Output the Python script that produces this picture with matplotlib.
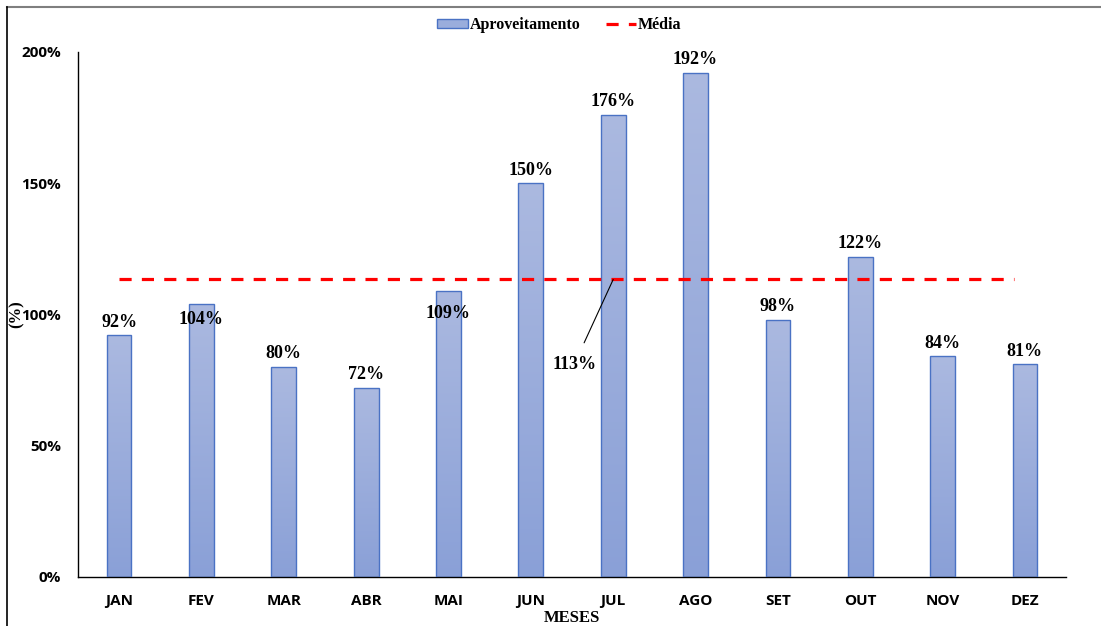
import numpy as np
import matplotlib.pyplot as plt
from matplotlib.colors import LinearSegmentedColormap
from matplotlib.lines import Line2D
from matplotlib.patches import Patch
from matplotlib.ticker import FuncFormatter

meses = ['JAN', 'FEV', 'MAR', 'ABR', 'MAI', 'JUN', 'JUL', 'AGO', 'SET', 'OUT', 'NOV', 'DEZ']
aproveitamento = [92, 104, 80, 72, 109, 150, 176, 192, 98, 122, 84, 81]
yticks = [0, 50, 100, 150, 200]

# rótulos que ficam dentro da barra (deslocamento em pontos)
label_offsets = {1: -11.5, 4: -16.5}

serif = 'Liberation Serif'
sans = 'Open Sans'

valores = np.array(aproveitamento) / 100
media = valores.mean()
x = np.arange(len(meses))

fig = plt.figure(figsize=(11.01, 6.26), dpi=100)
ax = fig.add_axes([0.0708, 0.0783, 0.8975, 0.8387])

# barras com gradiente vertical
cmap = LinearSegmentedColormap.from_list('grad', ['#8aa0d7', '#abb9e0'])
grad = np.linspace(0, 1, 256).reshape(-1, 1)
largura = 0.30
bars = ax.bar(x, valores, width=largura, color='none', edgecolor='#4a72c4', linewidth=1.0, zorder=3)
for b in bars:
    x0, w, h = b.get_x(), b.get_width(), b.get_height()
    im = ax.imshow(grad, cmap=cmap, aspect='auto', origin='lower',
                   extent=[x0, x0 + w, 0, h], zorder=2)
    im.set_clip_path(b)

# linha da média
ax.plot([x[0], x[-1] - 0.13], [media, media], color='#ff0000', lw=2.3,
        linestyle=(0, (3.8, 3.2)), zorder=4)

# rótulos de dados
for i, v in enumerate(valores):
    off = label_offsets.get(i, 9.5)
    ax.annotate(f'{aproveitamento[i]}%', (x[i], v), xytext=(0, off),
                textcoords='offset points', ha='center', va='center',
                fontsize=13, fontweight='bold', family=serif, zorder=5)

ax.annotate(f'{media * 100:.0f}%', (x[6], media), xytext=(-28, -61),
            textcoords='offset points', ha='center', va='center',
            fontsize=13, fontweight='bold', family=serif,
            arrowprops=dict(arrowstyle='-', color='black', lw=0.8, shrinkA=8, shrinkB=0),
            zorder=5)

ax.set_xlim(-0.5, len(meses) - 0.5)
ax.set_ylim(0, 2.0)
ax.set_xticks(x)
ax.set_xticklabels(meses)
ax.set_yticks(np.array(yticks) / 100)
ax.yaxis.set_major_formatter(FuncFormatter(lambda v, p: f'{v * 100:.0f}%'))
for lab in ax.get_xticklabels() + ax.get_yticklabels():
    lab.set_family(sans)
    lab.set_fontweight('bold')
    lab.set_fontsize(11)
ax.tick_params(axis='both', length=0)
ax.tick_params(axis='y', pad=12)
ax.tick_params(axis='x', pad=12)

for s in ['top', 'right']:
    ax.spines[s].set_visible(False)
ax.spines['left'].set_linewidth(1.0)
ax.spines['bottom'].set_linewidth(1.0)

fig.text(572 / 1101, 1 - 618 / 626, 'MESES', ha='center', va='center',
         family=serif, fontweight='bold', fontsize=12)
fig.text(17 / 1101, 1 - 314 / 626, '(%)', rotation=90, ha='center', va='center',
         family=serif, fontweight='bold', fontsize=12)

# legenda
handles = [Patch(facecolor='#9aaddc', edgecolor='#4a72c4', linewidth=1.0),
           Line2D([0], [0], color='#ff0000', lw=2.3, linestyle=(0, (3.8, 3.2)))]
fig.legend(handles, ['Aproveitamento', 'Média'], loc='center', bbox_to_anchor=(0.508, 1 - 25 / 626),
           ncol=2, frameon=False, prop={'family': serif, 'weight': 'bold', 'size': 11.5},
           handlelength=1.9, handleheight=0.55, handletextpad=0.1, columnspacing=1.6)

# moldura
fig.add_artist(Line2D([7 / 1101, 1], [1 - 6.5 / 626, 1 - 6.5 / 626], transform=fig.transFigure,
                      color='#7f7f7f', lw=1.5))
fig.add_artist(Line2D([7 / 1101, 7 / 1101], [0, 1 - 6.5 / 626], transform=fig.transFigure,
                      color='black', lw=1.2))

fig.savefig('out.png', dpi=100)
